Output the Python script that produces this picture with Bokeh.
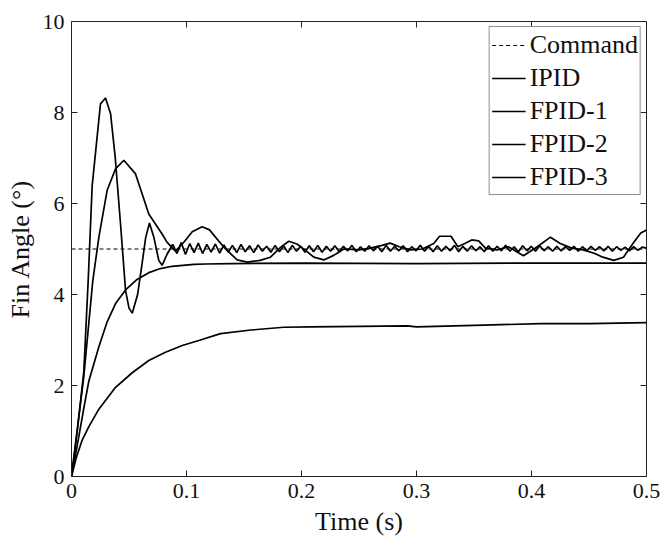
import numpy as np
from bokeh.plotting import figure
from bokeh.models import FixedTicker, Legend, LegendItem, Range1d
from bokeh.embed import file_html
from bokeh.resources import INLINE

# ---------------- data ----------------
x_ticks = [0, 0.1, 0.2, 0.3, 0.4, 0.5]
y_ticks = [0, 2, 4, 6, 8, 10]
x_tick_labels = ["0", "0.1", "0.2", "0.3", "0.4", "0.5"]
y_tick_labels = ["0", "2", "4", "6", "8", "10"]
series_names = ["Command", "IPID", "FPID-1", "FPID-2", "FPID-3"]

cmd_t = [0.0, 0.5]
cmd_y = [5.0, 5.0]

# FPID-3 : strongly oscillating response, then fine ripple around 5
a_t_head = [0, 0.005, 0.0107, 0.0145, 0.018, 0.0252, 0.0296, 0.034, 0.038, 0.0426,
            0.047, 0.05, 0.0528, 0.0575, 0.0615, 0.0645, 0.0678, 0.0716, 0.0759, 0.0788, 0.0832]
a_y_head = [0, 1.0, 2.3, 4.3, 6.4, 8.19, 8.32, 7.97, 7.02, 5.56,
            4.09, 3.7, 3.59, 4.0, 4.7, 5.25, 5.57, 5.26, 4.75, 4.64, 4.89]
a_y_tail = [5.10, 4.90, 5.14, 4.88, 5.12, 4.92, 5.13, 4.90, 5.10, 4.93, 5.11, 4.91,
            5.09, 4.93, 5.08, 4.92, 5.10, 4.94, 5.07, 4.92, 5.09, 4.95, 5.06, 4.93, 5.08,
            4.94, 5.07, 4.92, 5.08, 4.95, 5.06, 4.93, 5.07, 4.94, 5.08, 4.93, 5.06,
            4.95, 5.07, 4.94, 5.06, 4.96, 5.08, 4.94, 5.05, 4.95, 5.07, 4.96, 5.06, 4.94,
            5.08, 4.95, 5.06, 4.96, 5.07, 4.94, 5.05, 4.96, 5.08, 4.95, 5.06, 4.94,
            5.07, 4.95, 5.06, 4.96, 5.08, 4.94, 5.06, 4.95, 5.07, 4.96, 5.05, 4.94, 5.07,
            4.95, 5.06, 4.96, 5.08, 4.95, 5.05, 4.94, 5.07, 4.96, 5.06, 4.95, 5.07,
            4.96, 5.05, 4.95, 5.06, 4.96, 5.05, 4.97, 5.06, 4.95, 5.05, 4.96, 5.06, 4.97,
            5.05, 4.96, 5.06, 4.95, 5.05, 4.97, 5.04, 4.96, 5.05, 4.97, 5.04, 5.02]
a_tail_start, a_tail_end = 0.088, 0.5

# FPID-2 : overshoot to ~7, slow wander around 5
b_t = [0, 0.0107, 0.0185, 0.0238, 0.031, 0.0383, 0.0455, 0.0557, 0.0672, 0.0788, 0.083,
       0.0904, 0.0977, 0.105, 0.1136, 0.12, 0.1325, 0.144, 0.153, 0.164, 0.173, 0.182,
       0.189, 0.196, 0.2035, 0.2107, 0.2194, 0.228, 0.2368, 0.25, 0.26, 0.27, 0.277,
       0.285, 0.295, 0.305, 0.315, 0.32, 0.33, 0.336, 0.342, 0.348, 0.354, 0.36, 0.37,
       0.38, 0.393, 0.405, 0.4165, 0.425, 0.435, 0.445, 0.455, 0.462, 0.4716, 0.48,
       0.489, 0.495, 0.5]
b_y = [0, 2.2, 4.3, 5.26, 6.29, 6.76, 6.95, 6.65, 5.77, 5.33, 5.15,
       4.95, 5.15, 5.38, 5.49, 5.42, 5.04, 4.76, 4.71, 4.75, 4.82, 5.04,
       5.17, 5.11, 4.97, 4.82, 4.76, 4.86, 5.0, 4.98, 5.02, 5.08, 5.13,
       5.05, 4.98, 5.0, 5.12, 5.28, 5.28, 5.05, 5.12, 5.2, 5.18, 5.02, 4.98,
       5.05, 4.85, 5.05, 5.26, 5.12, 5.02, 4.98, 4.9, 4.82, 4.75, 4.82,
       5.15, 5.35, 5.42]

# FPID-1 : first-order rise to ~4.7
c_t = [0, 0.004, 0.0064, 0.0107, 0.0151, 0.0238, 0.031, 0.0383, 0.047, 0.057, 0.0672,
       0.0774, 0.0875, 0.1064, 0.1165, 0.14, 0.2, 0.3, 0.4, 0.5]
c_y = [0, 0.55, 0.88, 1.5, 2.1, 2.85, 3.4, 3.8, 4.1, 4.33, 4.48,
       4.57, 4.62, 4.66, 4.67, 4.68, 4.69, 4.68, 4.69, 4.69]

# IPID : slow rise to ~3.35
d_t = [0, 0.004, 0.0093, 0.0152, 0.0238, 0.0383, 0.0528, 0.0672, 0.0817, 0.0963, 0.1107,
       0.1296, 0.156, 0.1846, 0.208, 0.251, 0.292, 0.3, 0.35, 0.408, 0.45, 0.5]
d_y = [0, 0.4, 0.8, 1.1, 1.48, 1.96, 2.28, 2.55, 2.73, 2.88, 2.99,
       3.14, 3.22, 3.28, 3.29, 3.30, 3.31, 3.29, 3.32, 3.36, 3.36, 3.38]

# ---------------- figure ----------------
FONT = "Liberation Serif"
W, H = 662, 538
L, R, T, B = 71, 16, 21, 62
X0, X1, Y0, Y1 = 0, 0.5, 0, 10

p = figure(width=W, height=H, x_range=Range1d(X0, X1), y_range=Range1d(Y0, Y1),
           output_backend="svg", toolbar_location=None,
           min_border_left=L, min_border_right=R, min_border_top=T, min_border_bottom=B)
p.background_fill_color = "white"
p.border_fill_color = "white"
p.outline_line_color = "#222222"
p.outline_line_width = 1
p.xgrid.visible = False
p.ygrid.visible = False

a_t_tail = list(np.linspace(a_tail_start, a_tail_end, len(a_y_tail)))
a_t = a_t_head + a_t_tail
a_y = a_y_head + a_y_tail

LW = 1.7
r_cmd = p.line(cmd_t, cmd_y, line_color="black", line_width=1, line_dash="4 3")
r_d = p.line(d_t, d_y, line_color="black", line_width=LW)
r_c = p.line(c_t, c_y, line_color="black", line_width=LW)
r_b = p.line(b_t, b_y, line_color="black", line_width=LW)
r_a = p.line(a_t, a_y, line_color="black", line_width=LW)

# mirrored inward ticks on the top and right edges (clipped to the frame)
p.scatter(x=x_ticks, y=[Y1] * len(x_ticks), marker="dash", angle=np.pi / 2,
          size=12, line_color="#222222", line_width=1)
p.scatter(x=[X1] * len(y_ticks), y=y_ticks, marker="dash",
          size=12, line_color="#222222", line_width=1)

def style_axis(ax, ticks, labels):
    ax.ticker = FixedTicker(ticks=ticks)
    ax.major_label_overrides = dict(zip(ticks, labels))
    ax.axis_line_color = None
    ax.major_tick_in = 6
    ax.major_tick_out = 0
    ax.major_tick_line_color = "#222222"
    ax.minor_tick_line_color = None
    ax.major_label_text_font = FONT
    ax.major_label_text_color = "#111111"
    ax.major_label_text_font_size = "22px"
    ax.axis_label_text_font = FONT
    ax.axis_label_text_font_style = "normal"
    ax.axis_label_text_color = "#111111"
    ax.axis_label_text_font_size = "26px"

xa = p.xaxis[0]
ya = p.yaxis[0]
style_axis(xa, x_ticks, x_tick_labels)
style_axis(ya, y_ticks, y_tick_labels)
xa.axis_label = "Time (s)"
ya.axis_label = "Fin Angle (°)"
xa.major_label_standoff = 7
xa.axis_label_standoff = 6
ya.major_label_standoff = 7
ya.axis_label_standoff = 5

legend = Legend(items=[LegendItem(label=series_names[0], renderers=[r_cmd]),
                       LegendItem(label=series_names[1], renderers=[r_d]),
                       LegendItem(label=series_names[2], renderers=[r_c]),
                       LegendItem(label=series_names[3], renderers=[r_b]),
                       LegendItem(label=series_names[4], renderers=[r_a])],
                location="top_right")
legend.margin = 5
legend.padding = 2
legend.spacing = 2
legend.label_height = 31
legend.glyph_height = 20
legend.glyph_width = 34
legend.label_standoff = 4
legend.label_text_font = FONT
legend.label_text_font_size = "26px"
legend.label_text_color = "#111111"
legend.border_line_color = "#222222"
legend.border_line_width = 1
legend.background_fill_color = "white"
legend.background_fill_alpha = 1.0
p.add_layout(legend)

open("out.html", "w").write(file_html(p, INLINE))
